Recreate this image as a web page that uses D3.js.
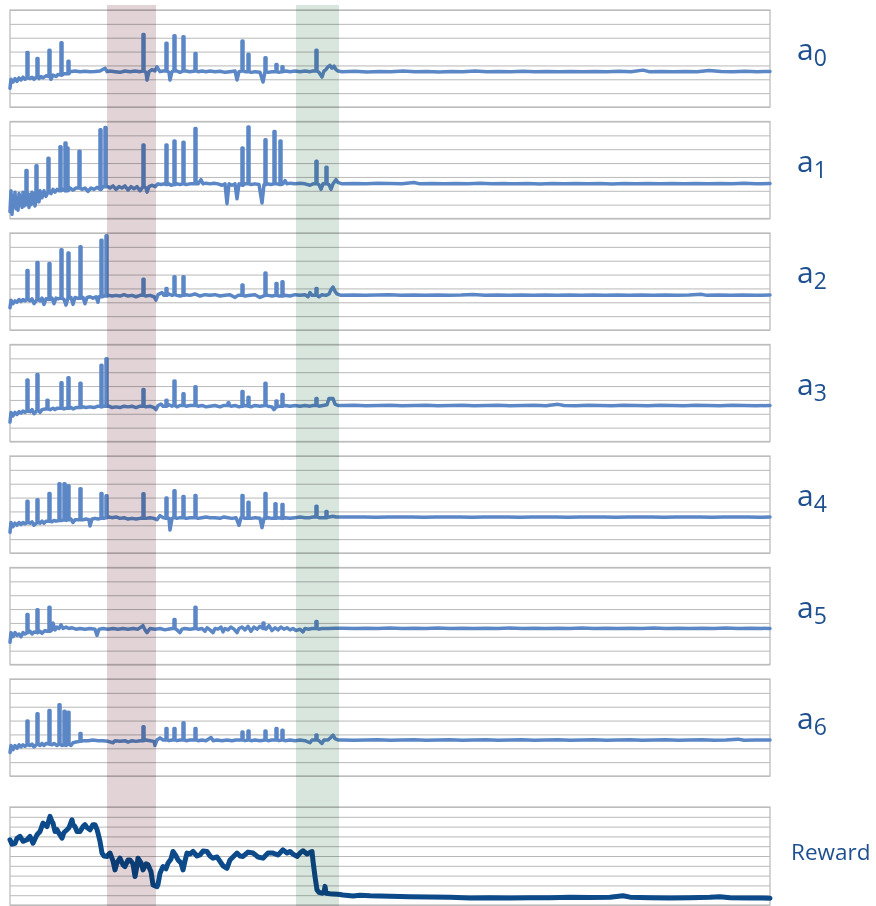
<!DOCTYPE html>
<html><head><meta charset="utf-8">
<script src="https://cdn.jsdelivr.net/npm/d3@7"></script>
<style>html,body{margin:0;padding:0;background:#fff;}svg{display:block;}</style>
</head><body><svg id="c" width="876" height="906"></svg>
<script>
// ---- data (x = training step, y = value in grid units) ----
// a point [step, value, peak] means a one-step excursion from value to peak and back
const panelLabels = ["a","a","a","a","a","a","a"];
const panelSubs = ["0","1","2","3","4","5","6"];
const rewardLabel = "Reward";
const bandPink = [97, 146];
const bandGreen = [286, 329];

const a0 = [[0,1.35],[1,2.0],[3,1.8],[5,2.05],[7,1.85],[9,2.1],[11,1.95],[13,2.15],[15,2.0],[17,2.1,3.94],[20,2.05],[22,2.15],[24,2.0],[27,2.2,3.5],[29,2.05],[31,2.2],[33,2.1],[36,2.25],[39,2.2,4.1],[41,2.0],[43,2.3],[46,2.2],[48,2.35],[51,2.3,4.64],[54,2.4],[58,2.4,3.3],[60,2.55],[65,2.6],[70,2.55],[75,2.58],[80,2.55],[85,2.57],[90,2.6],[95,2.8],[97,2.55],[100,2.6],[105,2.55],[110,2.5],[115,2.6],[120,2.55],[125,2.6],[130,2.55],[133,2.6,5.24],[136,2.5],[137,1.95],[139,2.55],[142,2.7],[145,2.6],[147,2.9],[150,2.55],[153,2.6],[156,2.6,4.6],[159,2.5],[160,1.95],[162,2.55],[164,2.6,5.15],[167,2.6],[170,2.5],[173,2.6,5.07],[176,2.6],[180,2.55],[185,2.6,3.86],[188,2.55],[192,2.6],[196,2.55],[200,2.6],[205,2.55],[210,2.58],[215,2.5],[220,2.55],[225,2.6],[227,1.95],[229,2.55],[232,2.6,4.76],[235,2.55],[238,2.55,3.8],[241,2.5],[245,2.55],[250,2.5],[253,1.8],[255,2.55,3.55],[258,2.5],[262,2.55],[266,2.55,3.07],[269,2.5],[272,2.55,2.9],[276,2.6],[280,2.55],[285,2.6],[290,2.55],[295,2.6],[300,2.55],[303,2.6],[306,2.6,4.1],[309,2.5],[312,2.17],[314,2.6],[316,2.7],[318,2.9],[320,3.0],[322,2.8],[324,2.95],[326,2.7],[328,2.6],[332,2.55],[345,2.58],[357,2.53],[369,2.57],[381,2.54],[393,2.6],[405,2.55],[417,2.57],[429,2.53],[441,2.56],[453,2.55],[465,2.6],[477,2.54],[489,2.56],[501,2.55],[513,2.58],[525,2.54],[537,2.56],[549,2.55],[561,2.57],[573,2.54],[585,2.56],[597,2.55],[609,2.58],[621,2.54],[633,2.66],[639,2.55],[651,2.57],[663,2.54],[675,2.56],[687,2.55],[699,2.63],[711,2.56],[723,2.54],[735,2.58],[747,2.55],[760,2.56]];

const a1 = [[0,0.5],[1,2.0],[2,0.3],[3,1.6],[4,0.9],[5,1.9],[6,0.7],[7,1.5],[8,0.6],[9,1.8],[10,1.0],[11,1.6],[12,0.8],[13,1.9],[14,0.9],[15,1.7],[16,1.0,3.46],[18,1.8],[19,0.8],[20,1.7],[21,1.0],[22,1.9],[23,1.1],[24,1.8],[25,0.9],[26,1.3,3.8],[28,1.9],[29,1.2],[30,2.0],[32,1.5],[34,2.0],[36,1.6],[38,1.9,4.34],[41,1.8],[43,2.1],[45,1.9],[47,2.1],[49,2.0],[50,2.0,5.18],[53,2.1],[55,2.0,5.44],[57,2.0,5.08],[60,2.2],[63,2.05],[66,2.2],[69,2.2,4.85],[72,2.1],[75,2.2],[78,1.95],[81,2.2],[84,2.1],[87,2.25],[90,2.1,6.4],[93,2.3],[95,2.3,6.56],[98,2.3],[100,2.2],[103,2.35],[106,2.1],[109,2.3],[112,2.2],[115,2.35],[118,2.05],[121,2.3],[124,2.15],[127,2.3],[130,2.0],[133,2.3,5.3],[136,2.2],[137,1.9],[139,2.3],[142,2.4],[145,2.3],[148,2.5],[151,2.45],[154,2.5],[156,2.45,5.3],[159,2.5],[161,2.4],[164,2.45,5.6],[167,2.5],[170,2.45],[173,2.5,5.5],[176,2.45],[180,2.5],[185,2.5,6.5],[188,2.5],[191,2.8],[193,2.5],[196,2.55],[200,2.5],[204,2.55],[208,2.5],[212,2.4],[215,2.5],[217,1.07],[219,2.5],[222,2.4],[225,2.5],[227,1.43],[229,2.5],[232,2.4,5.08],[235,2.5],[238,2.5,6.6],[241,2.45],[245,2.5],[249,2.45],[252,1.12],[254,2.45],[255,2.45,5.68],[258,2.5],[261,2.45],[264,2.5,6.28],[267,2.5],[270,2.45,5.6],[273,2.5],[275,2.74],[277,2.5],[280,2.55],[285,2.5],[290,2.55],[295,2.5],[300,2.4],[303,2.5],[306,2.5,4.13],[309,2.45],[311,2.1],[313,2.5],[316,2.5,3.7],[319,2.45],[321,2.1],[323,2.5],[326,2.8],[328,2.6],[332,2.5],[344,2.53],[356,2.5],[368,2.55],[380,2.52],[392,2.5],[404,2.6],[410,2.5],[422,2.53],[434,2.5],[446,2.52],[458,2.5],[470,2.55],[482,2.5],[494,2.52],[506,2.5],[518,2.53],[530,2.49],[542,2.52],[554,2.5],[566,2.53],[578,2.5],[590,2.52],[602,2.49],[614,2.53],[626,2.5],[638,2.52],[650,2.5],[662,2.53],[674,2.5],[686,2.52],[698,2.5],[710,2.53],[722,2.5],[734,2.55],[746,2.5],[760,2.52]];

const a2 = [[0,1.6],[1,2.15],[3,1.9],[5,2.1],[7,2.0],[9,2.2],[11,2.05],[13,2.2],[15,2.1],[17,2.2,4.3],[20,2.1],[22,2.25],[24,1.9],[27,2.2,4.87],[30,2.1],[32,2.3],[34,1.85],[36,2.25],[39,2.2,4.8],[42,2.3],[44,1.9],[46,2.3],[48,2.25],[51,2.3,5.8],[54,2.2],[56,1.8],[58,2.3,5.56],[61,2.35],[63,1.85],[65,2.35],[67,2.3],[70,2.3,6.0],[73,2.35],[75,1.9],[77,2.35],[80,2.4],[83,2.3],[86,2.4],[88,2.0],[89,2.4],[91,2.4,6.47],[94,2.45],[96,2.45,6.8],[99,2.5],[102,2.45],[106,2.5],[110,2.45],[114,2.55],[118,2.45],[122,2.5],[126,2.4],[130,2.5],[133,2.5,3.67],[136,2.45],[140,2.5],[144,2.4],[146,2.15],[148,2.55],[152,2.7],[154,2.5],[156,2.5,3.0],[159,2.6],[162,2.5],[164,2.55,3.84],[167,2.5],[170,2.45],[173,2.5,3.84],[176,2.55],[180,2.5],[185,2.6],[190,2.45],[195,2.55],[200,2.5],[205,2.55],[210,2.45],[215,2.5],[220,2.55],[225,2.35],[228,2.5],[232,2.5,3.24],[235,2.45],[240,2.5],[245,2.55],[250,2.35],[255,2.5,4.12],[258,2.5],[262,2.45],[266,2.5,3.36],[269,2.45],[272,2.45,3.48],[275,2.5],[280,2.45],[285,2.55],[290,2.5],[295,2.55],[298,2.4],[300,2.7],[302,2.5],[306,2.5,3.0],[309,2.4],[312,2.55],[316,2.5],[319,2.6],[321,2.9],[323,3.1],[325,2.8],[327,2.6],[331,2.5],[343,2.53],[355,2.5],[367,2.52],[379,2.55],[391,2.5],[403,2.52],[415,2.5],[427,2.53],[439,2.5],[451,2.52],[463,2.56],[475,2.5],[487,2.52],[499,2.5],[511,2.53],[523,2.5],[535,2.52],[547,2.5],[559,2.53],[571,2.5],[583,2.52],[595,2.5],[607,2.53],[619,2.5],[631,2.52],[643,2.5],[655,2.53],[667,2.5],[679,2.52],[691,2.58],[697,2.5],[709,2.53],[721,2.5],[733,2.52],[745,2.5],[760,2.52]];

const a3 = [[0,1.4],[1,2.1],[3,1.85],[5,2.1],[7,1.95],[9,2.15],[11,2.05],[13,2.2],[15,2.1],[17,2.2,4.44],[20,2.15],[22,2.3],[24,2.0],[27,2.25,4.84],[30,2.1],[32,2.3],[35,2.35],[37,2.35,2.97],[40,2.3],[43,2.4],[45,2.3],[47,2.4],[51,2.4,4.24],[54,2.35],[56,2.4],[58,2.4,4.6],[61,2.45],[63,2.35],[66,2.45],[70,2.45,4.2],[73,2.5],[76,2.45],[80,2.5],[84,2.45],[88,2.55],[91,2.5,5.5],[94,2.55],[96,2.55,5.97],[99,2.55],[102,2.45],[106,2.5],[110,2.45],[114,2.55],[118,2.5],[122,2.55],[126,2.45],[130,2.55],[133,2.55,3.76],[136,2.5],[140,2.55],[144,2.45],[146,2.3],[148,2.6],[151,2.7],[153,2.55],[156,2.55,2.97],[159,2.65],[162,2.55],[164,2.6,4.36],[167,2.5],[170,2.6],[173,2.6,3.45],[176,2.55],[180,2.6],[185,2.6,3.96],[188,2.55],[192,2.6],[196,2.5],[200,2.55],[205,2.6],[210,2.5],[214,2.6],[218,2.6,2.8],[221,2.55],[225,2.6],[229,2.5],[232,2.55,3.6],[235,2.6],[238,2.55,3.2],[241,2.5],[245,2.6],[250,2.55],[255,2.6,4.2],[258,2.55],[262,2.5],[264,2.3],[266,2.5,2.93],[269,2.55],[272,2.55,3.4],[275,2.6],[280,2.55],[285,2.6],[290,2.55],[295,2.6],[300,2.55],[303,2.6],[306,2.6,3.1],[309,2.55],[313,2.6],[317,2.65],[319,3.1],[323,3.1],[325,2.7],[328,2.6],[332,2.6],[344,2.62],[356,2.58],[368,2.6],[380,2.62],[392,2.58],[404,2.6],[416,2.62],[428,2.58],[440,2.6],[452,2.62],[464,2.58],[476,2.6],[488,2.62],[500,2.58],[512,2.6],[524,2.62],[536,2.58],[548,2.68],[554,2.6],[566,2.58],[578,2.62],[590,2.6],[602,2.58],[614,2.62],[626,2.6],[638,2.58],[650,2.62],[662,2.6],[674,2.58],[686,2.62],[698,2.6],[710,2.58],[722,2.62],[734,2.6],[746,2.58],[760,2.6]];

const a4 = [[0,1.5],[1,2.2],[3,1.9],[5,2.15],[7,2.0],[9,2.2],[11,2.05],[13,2.2],[15,2.1],[17,2.2,3.73],[20,2.15],[22,2.25],[24,2.0],[27,2.2,3.85],[30,2.15],[32,2.3],[34,2.15],[36,2.3],[39,2.3,4.3],[42,2.25],[44,2.35],[46,2.3],[49,2.35,5.0],[52,2.35],[54,2.4,5.0],[56,2.35],[58,2.4,4.85],[61,2.45],[63,2.2],[65,2.4],[70,2.4,4.63],[73,2.4],[76,2.45],[79,2.4],[80,1.95],[82,2.45],[85,2.5],[88,2.45],[91,2.5,4.3],[94,2.5],[96,2.55,4.13],[99,2.6],[102,2.55],[106,2.6],[110,2.5],[114,2.55],[118,2.45],[122,2.5],[126,2.45],[130,2.5],[133,2.5,4.27],[136,2.5],[140,2.55],[144,2.5],[147,2.4],[150,2.7],[153,2.55],[156,2.5,3.97],[159,2.5],[160,1.66],[162,2.5],[164,2.55,4.5],[167,2.5],[170,2.55],[173,2.55,4.08],[176,2.5],[180,2.55],[185,2.55,4.15],[188,2.5],[192,2.55],[196,2.6],[200,2.55],[205,2.55],[210,2.5],[214,2.6],[218,2.55],[222,2.5],[226,2.55],[229,2.0],[231,2.55],[232,2.55,4.15],[235,2.5],[238,2.5,3.66],[241,2.5],[245,2.55],[250,2.5],[252,1.83],[254,2.5],[255,2.5,4.3],[258,2.55],[262,2.5],[265,2.5,3.56],[268,2.55],[272,2.5,3.5],[275,2.55],[280,2.5],[285,2.55],[290,2.6],[295,2.55],[300,2.55],[303,2.6],[306,2.6,3.37],[309,2.55],[312,2.55],[316,2.55,3.0],[319,2.6],[323,2.65],[326,2.6],[330,2.6],[342,2.59],[354,2.6],[366,2.58],[378,2.6],[390,2.59],[402,2.6],[414,2.58],[426,2.6],[438,2.59],[450,2.6],[462,2.58],[474,2.6],[486,2.59],[498,2.6],[510,2.58],[522,2.6],[534,2.59],[546,2.6],[558,2.58],[570,2.6],[582,2.59],[594,2.6],[606,2.58],[618,2.6],[630,2.59],[642,2.6],[654,2.58],[666,2.6],[678,2.59],[690,2.6],[702,2.58],[714,2.6],[726,2.59],[738,2.6],[750,2.58],[760,2.6]];

const a5 = [[0,1.6],[1,2.3],[3,2.0],[5,2.3],[7,2.1],[9,2.2],[11,2.0],[13,2.3],[15,2.2],[17,2.3,3.6],[20,2.4],[22,2.2],[24,2.35],[27,2.3,3.96],[30,2.4],[32,2.25],[35,2.45],[37,2.4],[39,2.4,4.13],[42,2.5],[43,3.0],[45,2.5],[47,2.7],[49,2.6],[51,2.86],[53,2.6],[56,2.7],[59,2.6],[62,2.65],[66,2.55],[70,2.6],[75,2.55],[80,2.6],[85,2.55],[87,2.1],[89,2.55],[93,2.6],[98,2.55],[103,2.6],[108,2.55],[113,2.6],[118,2.55],[123,2.6],[128,2.55],[131,2.7],[133,2.8],[135,2.5],[137,2.3],[140,2.6],[145,2.55],[150,2.6],[155,2.5],[158,2.55],[162,2.6],[164,2.6,3.25],[167,2.5],[170,2.3],[172,2.55],[175,2.6],[180,2.55],[185,2.6,4.13],[188,2.55],[192,2.6],[195,2.4],[197,2.65],[200,2.5],[203,2.3],[205,2.6],[208,2.55],[211,2.7],[213,2.35],[215,2.6],[218,2.5],[221,2.7],[224,2.55],[227,2.3],[229,2.6],[232,2.7],[235,2.5],[238,2.75],[241,2.4],[244,2.7],[247,2.55],[250,2.75],[253,2.6,3.0],[256,2.55],[259,2.8],[262,2.45],[265,2.65],[268,2.5],[271,2.7],[274,2.55],[277,2.65],[280,2.5],[283,2.6],[286,2.45],[290,2.55],[293,2.35],[295,2.6],[298,2.55],[302,2.6],[306,2.6,3.1],[309,2.55],[312,2.6],[318,2.6],[325,2.62],[332,2.62],[344,2.6],[356,2.62],[368,2.6],[380,2.63],[392,2.6],[404,2.62],[416,2.6],[428,2.63],[440,2.6],[452,2.62],[464,2.6],[476,2.62],[488,2.6],[500,2.63],[512,2.6],[524,2.62],[536,2.6],[548,2.62],[560,2.6],[572,2.63],[584,2.6],[596,2.62],[608,2.6],[620,2.62],[632,2.6],[644,2.63],[656,2.6],[668,2.62],[680,2.6],[692,2.62],[704,2.6],[716,2.63],[728,2.6],[740,2.62],[760,2.6]];

const a6 = [[0,1.7],[1,2.2],[3,1.9],[5,2.2],[7,2.0],[9,2.25],[11,2.1],[13,2.25],[15,2.15],[17,2.25,3.97],[20,2.2],[22,2.3],[24,2.1],[27,2.3,4.49],[30,2.2],[32,2.35],[34,2.2],[36,2.35],[39,2.3,4.73],[42,2.25],[44,2.35],[47,2.2],[49,2.3,5.15],[52,2.2],[54,2.25,4.68],[56,2.2],[58,2.3,4.6],[61,2.2],[63,2.4],[66,2.45],[70,2.5,3.06],[73,2.55],[78,2.55],[83,2.6],[88,2.55],[93,2.55],[98,2.5],[103,2.4],[105,2.55],[110,2.5],[115,2.55],[118,2.45],[122,2.55],[126,2.5],[130,2.55],[133,2.55,3.56],[136,2.6],[140,2.55],[144,2.5],[145,2.2],[147,2.6],[150,2.75],[153,2.6],[156,2.6,3.42],[159,2.55],[162,2.6],[164,2.6,3.42],[167,2.55],[170,2.6],[173,2.6,3.85],[176,2.55],[180,2.6],[185,2.6,3.42],[188,2.55],[192,2.6],[196,2.55],[201,2.78],[203,2.55],[207,2.6],[212,2.55],[217,2.6],[222,2.55],[226,2.6],[232,2.6,3.18],[235,2.55],[238,2.6,3.25],[241,2.55],[245,2.6],[250,2.55],[255,2.6,3.25],[258,2.55],[262,2.6],[266,2.6,3.42],[269,2.55],[272,2.6,3.3],[275,2.55],[280,2.6],[285,2.55],[290,2.6],[295,2.55],[300,2.4],[302,2.6],[306,2.6,2.95],[309,2.55],[312,2.35],[314,2.6],[318,2.6],[321,2.8],[323,2.95],[325,2.7],[328,2.6],[332,2.6],[344,2.58],[356,2.6],[368,2.62],[380,2.58],[392,2.6],[404,2.62],[416,2.58],[428,2.6],[440,2.62],[452,2.58],[464,2.6],[476,2.62],[488,2.58],[500,2.6],[512,2.62],[524,2.58],[536,2.6],[548,2.62],[560,2.58],[572,2.6],[584,2.62],[596,2.58],[608,2.6],[620,2.62],[632,2.58],[644,2.6],[656,2.62],[668,2.58],[680,2.6],[692,2.62],[704,2.58],[716,2.6],[728,2.66],[734,2.58],[746,2.6],[760,2.6]];

const reward = [[0,6.66],[2,6.2],[5,6.3],[7,6.8],[10,7.0],[13,6.5],[17,6.66],[20,7.0],[23,6.3],[27,7.17],[30,7.5],[33,8.36],[37,8.0],[40,9.04],[42,8.5],[43,8.36],[45,7.5],[47,7.68],[49,7.3],[52,6.83],[54,7.4],[57,7.68],[59,7.9],[62,8.7],[63,8.2],[65,8.0],[67,7.5],[70,7.5],[73,8.0],[75,8.2],[77,7.9],[80,7.68],[83,8.2],[85,8.2],[87,7.7],[88,7.34],[90,6.5],[92,5.3],[94,5.0],[97,4.95],[98,5.1],[100,5.3],[103,4.5],[105,3.58],[107,4.3],[110,4.78],[113,4.1],[115,3.92],[118,4.6],[120,4.6],[123,4.2],[125,2.9],[127,4.0],[128,4.78],[131,4.3],[133,3.58],[136,4.2],[138,4.1],[141,3.4],[143,2.05],[147,1.88],[148,2.1],[150,3.24],[153,3.92],[156,3.7],[158,4.27],[161,4.7],[163,5.46],[166,5.0],[168,4.6],[171,4.3],[173,3.58],[175,4.5],[177,5.3],[180,5.2],[183,5.46],[187,5.0],[190,5.12],[193,5.5],[197,5.46],[200,5.0],[203,4.78],[207,4.9],[210,4.44],[213,4.0],[217,3.75],[220,4.6],[223,4.9],[227,5.3],[230,5.0],[233,4.95],[238,5.4],[243,5.3],[248,4.9],[253,4.78],[258,5.3],[263,5.3],[268,5.1],[273,5.63],[277,5.3],[280,5.46],[283,5.2],[287,4.95],[290,5.3],[293,5.53],[297,5.2],[302,5.46],[303,4.5],[305,2.9],[307,1.54],[309,1.3],[312,1.2],[314,1.3],[315,1.9],[316,1.2],[320,1.15],[323,1.13],[328,1.1],[333,1.02],[338,0.98],[343,0.92],[350,1.0],[360,0.95],[380,0.9],[400,0.85],[420,0.82],[440,0.78],[460,0.72],[480,0.75],[500,0.72],[520,0.75],[540,0.74],[560,0.78],[580,0.76],[600,0.8],[613,0.95],[620,0.8],[640,0.75],[660,0.72],[680,0.75],[700,0.78],[710,0.85],[720,0.75],[740,0.72],[760,0.7]];

const actionSeries = [a0, a1, a2, a3, a4, a5, a6];

// ---- drawing ----
const svg = d3.select("#c");
const left = 10, right = 770;
const x = d3.scaleLinear().domain([0, 760]).range([left, right]);
const gridColor = "#b9b9b9";
const lineColor = "#5b87c6";
const rewardColor = "#0c4a8a";
const labelColor = "#1e508f";

function expand(pts) {
  const out = [];
  pts.forEach(p => {
    if (p.length === 3) {
      out.push([p[0], p[1]], [p[0], p[2]], [p[0] + 1, p[2]], [p[0] + 1, p[1]]);
    } else out.push(p);
  });
  return out;
}

function panel(top, height, nGrid, data, color, width) {
  const y = d3.scaleLinear().domain([0, nGrid]).range([top + height, top]);
  const g = svg.append("g");
  g.append("g")
    .attr("transform", `translate(${left},0)`)
    .call(d3.axisLeft(y).tickValues(d3.range(0, nGrid + 1)).tickSize(-(right - left)).tickFormat(""))
    .call(s => s.select(".domain").remove())
    .call(s => s.selectAll("line").attr("stroke", gridColor).attr("stroke-width", 1));
  g.append("rect").attr("x", left).attr("y", top).attr("width", right - left).attr("height", height)
    .attr("fill", "none").attr("stroke", "#bdbdbd").attr("stroke-width", 1.3);
  const line = d3.line().x(d => x(d[0])).y(d => y(d[1]));
  g.append("path").datum(expand(data)).attr("d", line)
    .attr("fill", "none").attr("stroke", color).attr("stroke-width", width)
    .attr("stroke-linejoin", "round").attr("stroke-linecap", "round");
  return y;
}

const aH = 97, aStep = 111.5, aTop0 = 10;
actionSeries.forEach((s, i) => {
  const top = aTop0 + i * aStep;
  panel(top, aH, 7, s, lineColor, 3.5);
  const t = svg.append("text").attr("x", 797).attr("y", top + 50)
    .attr("font-family", "'Open Sans', sans-serif").attr("fill", labelColor)
    .attr("font-size", 30);
  t.append("tspan").text(panelLabels[i]);
  t.append("tspan").attr("font-size", 23).attr("dy", 6).text(panelSubs[i]);
});

const rTop = 807, rH = 98;
panel(rTop, rH, 10, reward, rewardColor, 5);
svg.append("text").attr("x", 791).attr("y", 860)
  .attr("font-family", "'Open Sans', sans-serif").attr("fill", labelColor)
  .attr("font-size", 22.5).text(rewardLabel);

// shaded bands (multiplied over everything)
[[bandPink, "#e1d3d6"], [bandGreen, "#d9e6de"]].forEach(([b, c]) => {
  svg.append("rect").attr("x", x(b[0])).attr("y", 5)
    .attr("width", x(b[1]) - x(b[0])).attr("height", 906 - 5)
    .attr("fill", c).style("mix-blend-mode", "multiply");
});
</script></body></html>
